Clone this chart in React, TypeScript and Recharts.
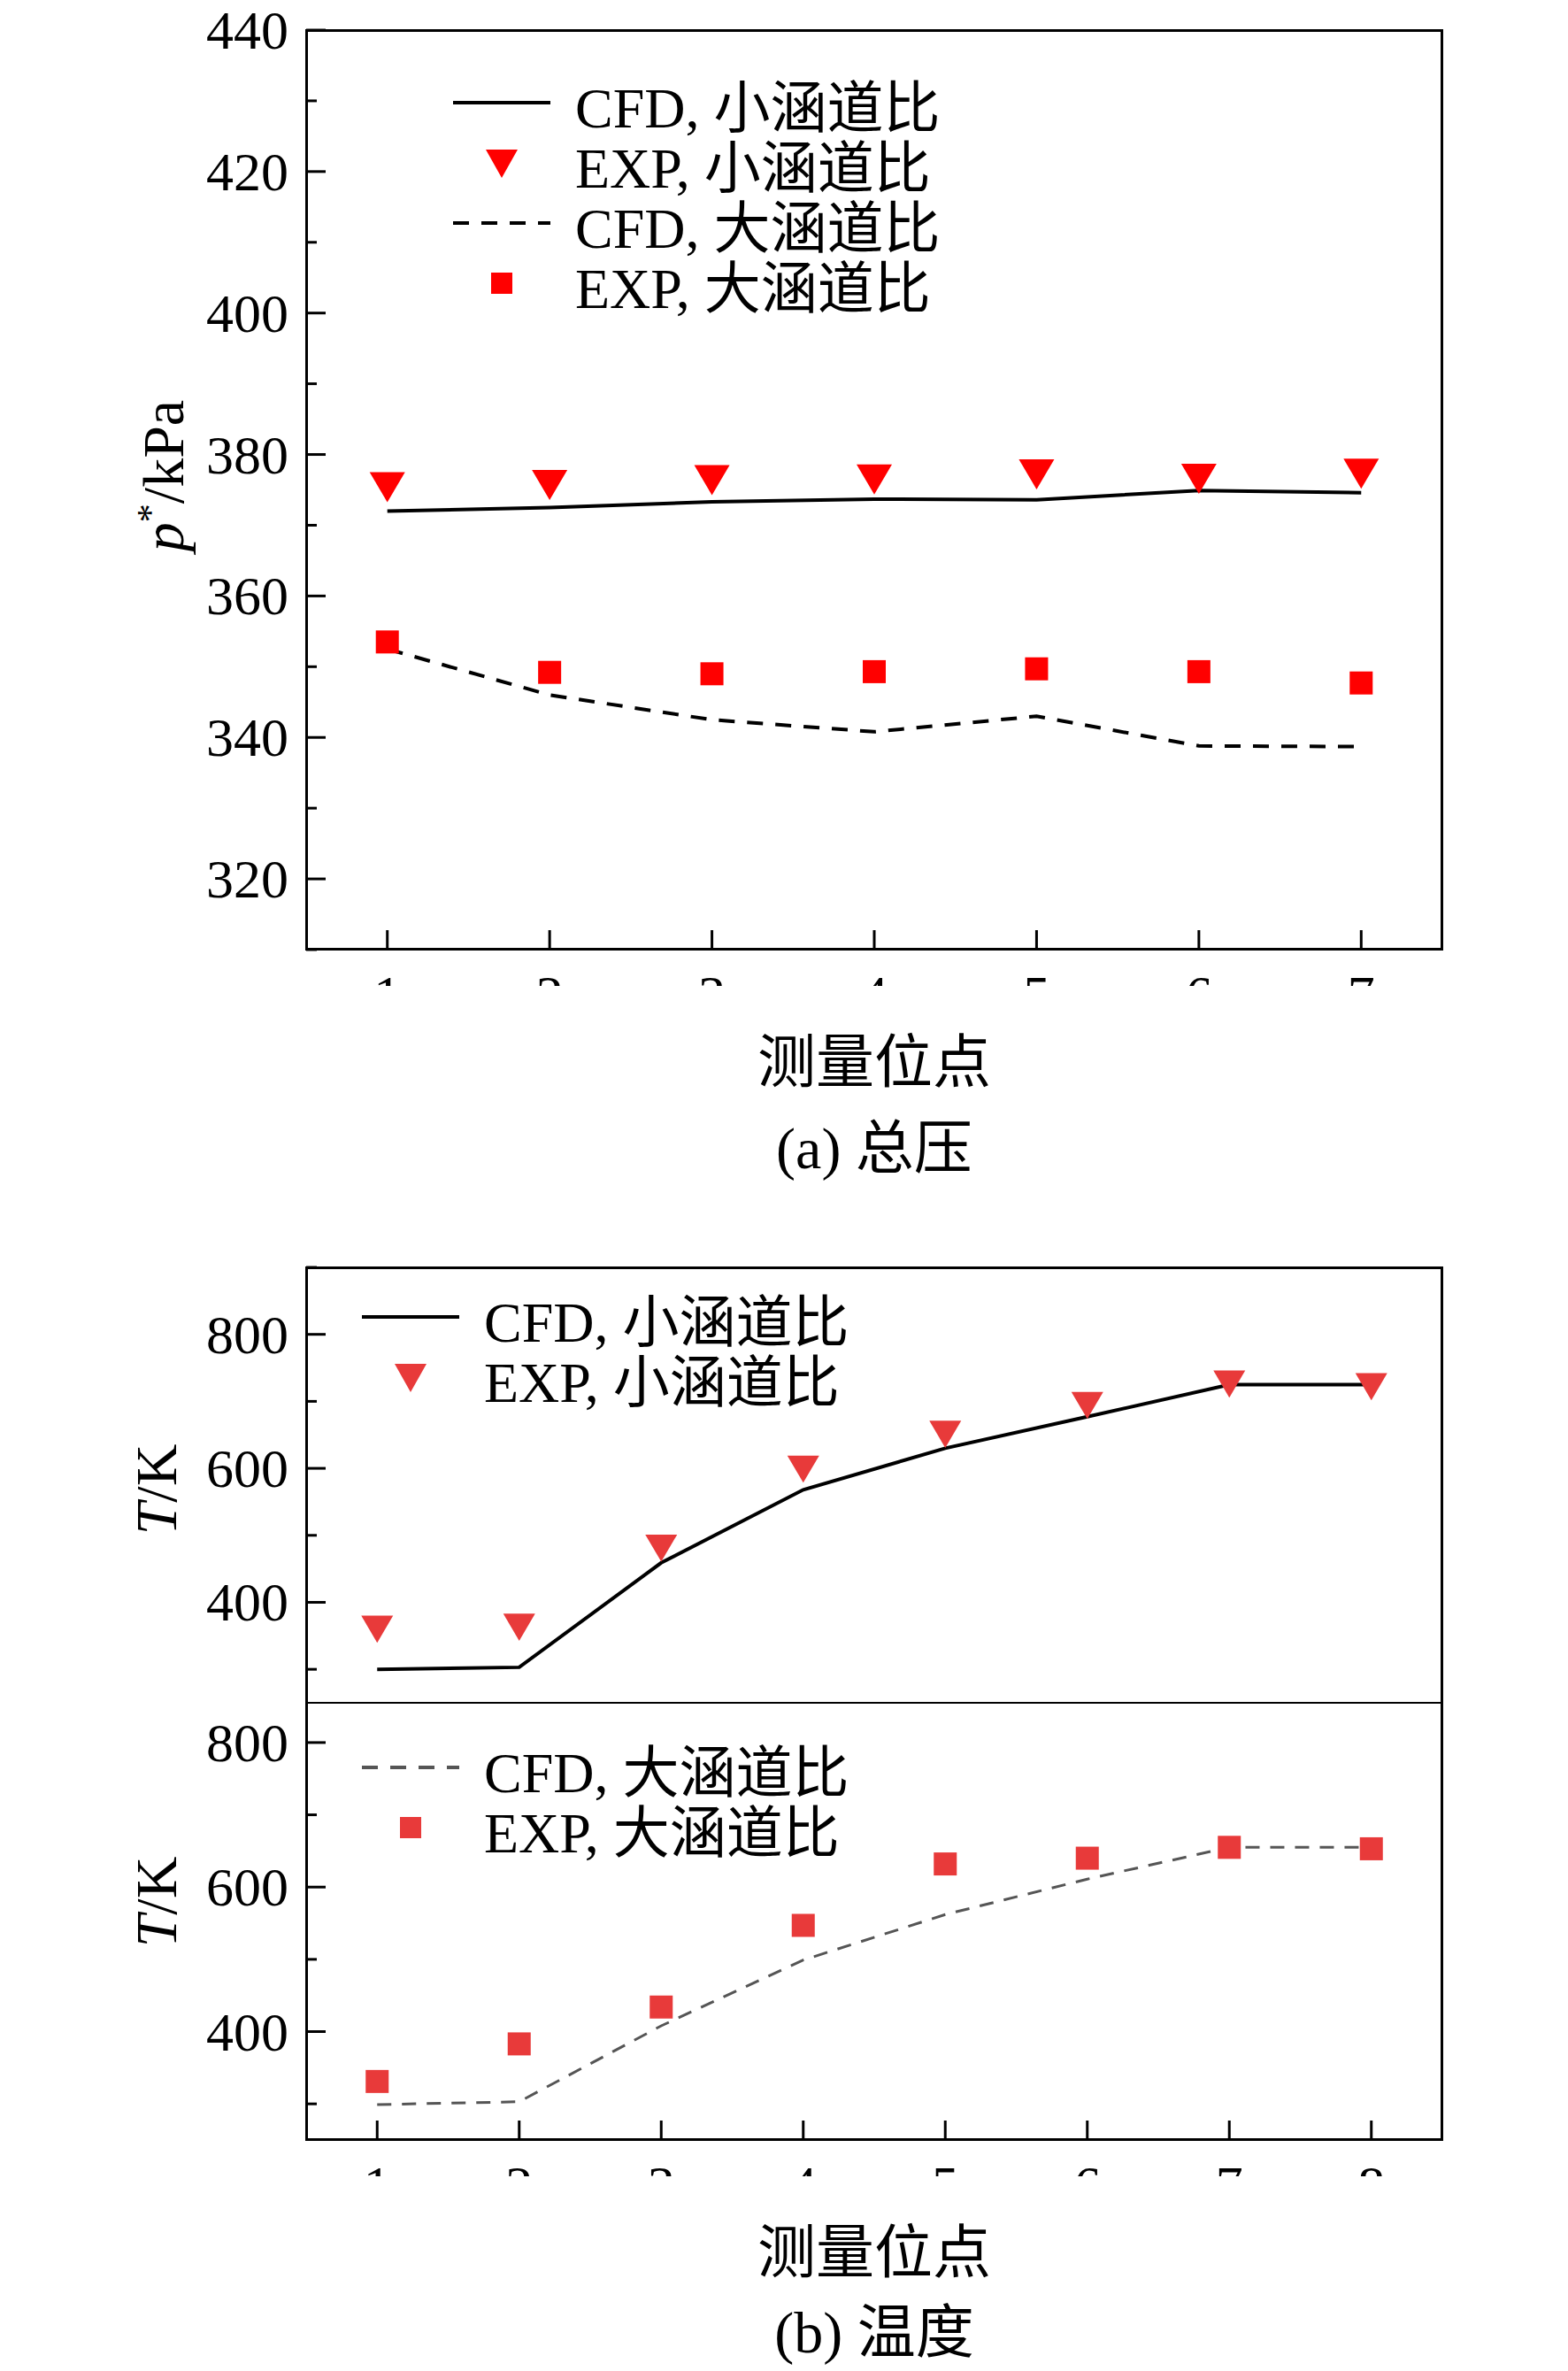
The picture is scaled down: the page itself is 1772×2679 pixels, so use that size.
import { ComposedChart, Line, Scatter, XAxis, YAxis } from 'recharts';

const pointsA = [1, 2, 3, 4, 5, 6, 7];
const cfdSmallA = [372, 372.5, 373.3, 373.7, 373.6, 374.9, 374.6];
const expSmallA = [375.5, 375.8, 376.5, 376.6, 377.3, 376.7, 377.4];
const cfdLargeA = [352.5, 346, 342.5, 340.8, 343, 338.8, 338.7];
const expLargeA = [353.5, 349.2, 349.0, 349.3, 349.7, 349.3, 347.7];

const pointsB = [1, 2, 3, 4, 5, 6, 7, 8];
const cfdSmallB = [300, 303, 459, 568, 630, 677, 725, 725];
const expSmallB = [361, 364, 482, 600, 652, 695, 727, 723];
const cfdLargeB = [299, 303, 408, 499, 562, 611, 655, 655];
const expLargeB = [331, 383, 434, 547, 632, 640, 655, 653];

const legendSmall = 'CFD, 小涵道比';
const legendSmallExp = 'EXP, 小涵道比';
const legendLarge = 'CFD, 大涵道比';
const legendLargeExp = 'EXP, 大涵道比';

const FONT = '"Liberation Serif", "Noto Sans CJK SC", serif';
const RED = '#ff0000';
const RED2 = '#e83a3a';

const dataA = pointsA.map((x, i) => ({ x, cs: cfdSmallA[i], es: expSmallA[i], cl: cfdLargeA[i], el: expLargeA[i] }));
const dataB = pointsB.map((x, i) => ({ x, cs: cfdSmallB[i], es: expSmallB[i], cl: cfdLargeB[i], el: expLargeB[i] }));

const Tri = (color: string, s: number) => (p: any) => (
  <polygon points={`${p.cx - s},${p.cy - s * 0.8} ${p.cx + s},${p.cy - s * 0.8} ${p.cx},${p.cy + s * 0.9}`} fill={color} />
);
const Sq = (color: string, s: number) => (p: any) => (
  <rect x={p.cx - s} y={p.cy - s} width={2 * s} height={2 * s} fill={color} />
);

const XTick = (showLabel: boolean) => (p: any) => (
  <g>
    <line x1={p.x} x2={p.x} y1={p.y - 8} y2={p.y - 30} stroke="#000" strokeWidth={3} />
    {showLabel && (
      <text x={p.x} y={p.y + 64} textAnchor="middle" fontFamily={FONT} fontSize={62} fill="#000">
        {p.payload.value}
      </text>
    )}
  </g>
);
const YTick = (major: number) => (p: any) => {
  const v = p.payload.value;
  const isMajor = v % major === 0;
  return (
    <g>
      <line x1={p.x + 8} x2={p.x + (isMajor ? 30 : 20)} y1={p.y} y2={p.y} stroke="#000" strokeWidth={3} />
      {isMajor && (
        <text x={p.x - 12} y={p.y + 21} textAnchor="end" fontFamily={FONT} fontSize={62} fill="#000">
          {v}
        </text>
      )}
    </g>
  );
};

function Leg({ top, left, rows }: { top: number; left: number; rows: { kind: string; label: string; color: string }[] }) {
  return (
    <div style={{ position: 'absolute', top, left, fontFamily: FONT, fontSize: 64 }}>
      {rows.map((r) => (
        <div key={r.label} style={{ display: 'flex', alignItems: 'center', height: 68 }}>
          <svg width={110} height={68} style={{ marginRight: 28 }}>
            {r.kind === 'solid' && <line x1={0} x2={110} y1={34} y2={34} stroke={r.color} strokeWidth={4} />}
            {r.kind === 'dash' && <line x1={0} x2={110} y1={34} y2={34} stroke={r.color} strokeWidth={4} strokeDasharray="18 14" />}
            {r.kind === 'tri' && <polygon points="37,19 73,19 55,51" fill={r.color} />}
            {r.kind === 'sq' && <rect x={43} y={22} width={24} height={24} fill={r.color} />}
          </svg>
          <span>{r.label}</span>
        </div>
      ))}
    </div>
  );
}

const txt = (top: number, left: number, s: React.ReactNode, extra: React.CSSProperties = {}) => (
  <div style={{ position: 'absolute', top, left, fontFamily: FONT, fontSize: 66, whiteSpace: 'nowrap', lineHeight: '76px', ...extra }}>{s}</div>
);
const box = (top: number, h: number, extra: React.CSSProperties = {}) => (
  <div style={{ position: 'absolute', left: 345, top, width: 1286, height: h, border: '3px solid #000', boxSizing: 'border-box', ...extra }} />
);
const vtitle = (cy: number, s: React.ReactNode) =>
  txt(cy - 38, 177 - 150, s, { width: 300, textAlign: 'center', transform: 'rotate(-90deg)', transformOrigin: 'center' });

export default function App() {
  return (
    <div style={{ position: 'absolute', top: 0, left: 0, width: 1772, height: 2679, background: '#fff' }}>
      {/* (a) total pressure */}
      <div style={{ position: 'absolute', top: 0, left: 0 }}>
        <ComposedChart width={1772} height={1114} data={dataA} margin={{ top: 34, left: 0, right: 142, bottom: 0 }}>
          <XAxis dataKey="x" type="number" domain={[0.5, 7.5]} ticks={pointsA} height={41} tick={XTick(true)} tickLine={false} axisLine={false} />
          <YAxis type="number" domain={[310, 440]} ticks={[310, 320, 330, 340, 350, 360, 370, 380, 390, 400, 410, 420, 430, 440]} width={346} tick={YTick(20)} tickLine={false} axisLine={false} />
          <Line dataKey="cs" stroke="#000" strokeWidth={4} dot={false} isAnimationActive={false} />
          <Line dataKey="cl" stroke="#000" strokeWidth={4} strokeDasharray="18 14" dot={false} isAnimationActive={false} />
          <Scatter dataKey="es" shape={Tri(RED, 20)} isAnimationActive={false} />
          <Scatter dataKey="el" shape={Sq(RED, 13)} isAnimationActive={false} />
        </ComposedChart>
      </div>
      {box(33, 1041)}
      <Leg top={82} left={512} rows={[
        { kind: 'solid', label: legendSmall, color: '#000' },
        { kind: 'tri', label: legendSmallExp, color: RED },
        { kind: 'dash', label: legendLarge, color: '#000' },
        { kind: 'sq', label: legendLargeExp, color: RED },
      ]} />
      {vtitle(530, <span><i>p</i><sup style={{ fontSize: 42 }}>*</sup>/kPa</span>)}
      {txt(1163, 0, '测量位点', { width: 1976, textAlign: 'center' })}
      {txt(1260, 0, '(a) 总压', { width: 1976, textAlign: 'center' })}

      {/* (b) temperature, upper panel */}
      <div style={{ position: 'absolute', top: 0, left: 0 }}>
        <ComposedChart width={1772} height={1924} data={dataB} margin={{ top: 1432, left: 0, right: 142, bottom: 0 }}>
          <XAxis dataKey="x" type="number" domain={[0.5, 8.5]} ticks={pointsB} height={0} tick={false} tickLine={false} axisLine={false} />
          <YAxis type="number" domain={[250, 900]} ticks={[300, 400, 500, 600, 700, 800, 900]} width={346} tick={YTick(200)} tickLine={false} axisLine={false} />
          <Line dataKey="cs" stroke="#000" strokeWidth={4} dot={false} isAnimationActive={false} />
          <Scatter dataKey="es" shape={Tri(RED2, 18)} isAnimationActive={false} />
        </ComposedChart>
      </div>
      {/* lower panel */}
      <div style={{ position: 'absolute', top: 0, left: 0 }}>
        <ComposedChart width={1772} height={2459} data={dataB} margin={{ top: 1924, left: 0, right: 142, bottom: 0 }}>
          <XAxis dataKey="x" type="number" domain={[0.5, 8.5]} ticks={pointsB} height={41} tick={XTick(true)} tickLine={false} axisLine={false} />
          <YAxis type="number" domain={[250, 855]} ticks={[300, 400, 500, 600, 700, 800]} width={346} tick={YTick(200)} tickLine={false} axisLine={false} />
          <Line dataKey="cl" stroke="#555" strokeWidth={3} strokeDasharray="16 12" dot={false} isAnimationActive={false} />
          <Scatter dataKey="el" shape={Sq(RED2, 13)} isAnimationActive={false} />
        </ComposedChart>
      </div>
      {box(1431, 988)}
      <div style={{ position: 'absolute', left: 345, top: 1923, width: 1286, height: 2, background: '#000' }} />
      <Leg top={1454} left={409} rows={[
        { kind: 'solid', label: legendSmall, color: '#000' },
        { kind: 'tri', label: legendSmallExp, color: RED2 },
      ]} />
      <Leg top={1963} left={409} rows={[
        { kind: 'dash', label: legendLarge, color: '#555' },
        { kind: 'sq', label: legendLargeExp, color: RED2 },
      ]} />
      {vtitle(1683, <span><i>T</i>/K</span>)}
      {vtitle(2149, <span><i>T</i>/K</span>)}
      {txt(2508, 0, '测量位点', { width: 1976, textAlign: 'center' })}
      {txt(2598, 0, '(b) 温度', { width: 1976, textAlign: 'center' })}
    </div>
  );
}
